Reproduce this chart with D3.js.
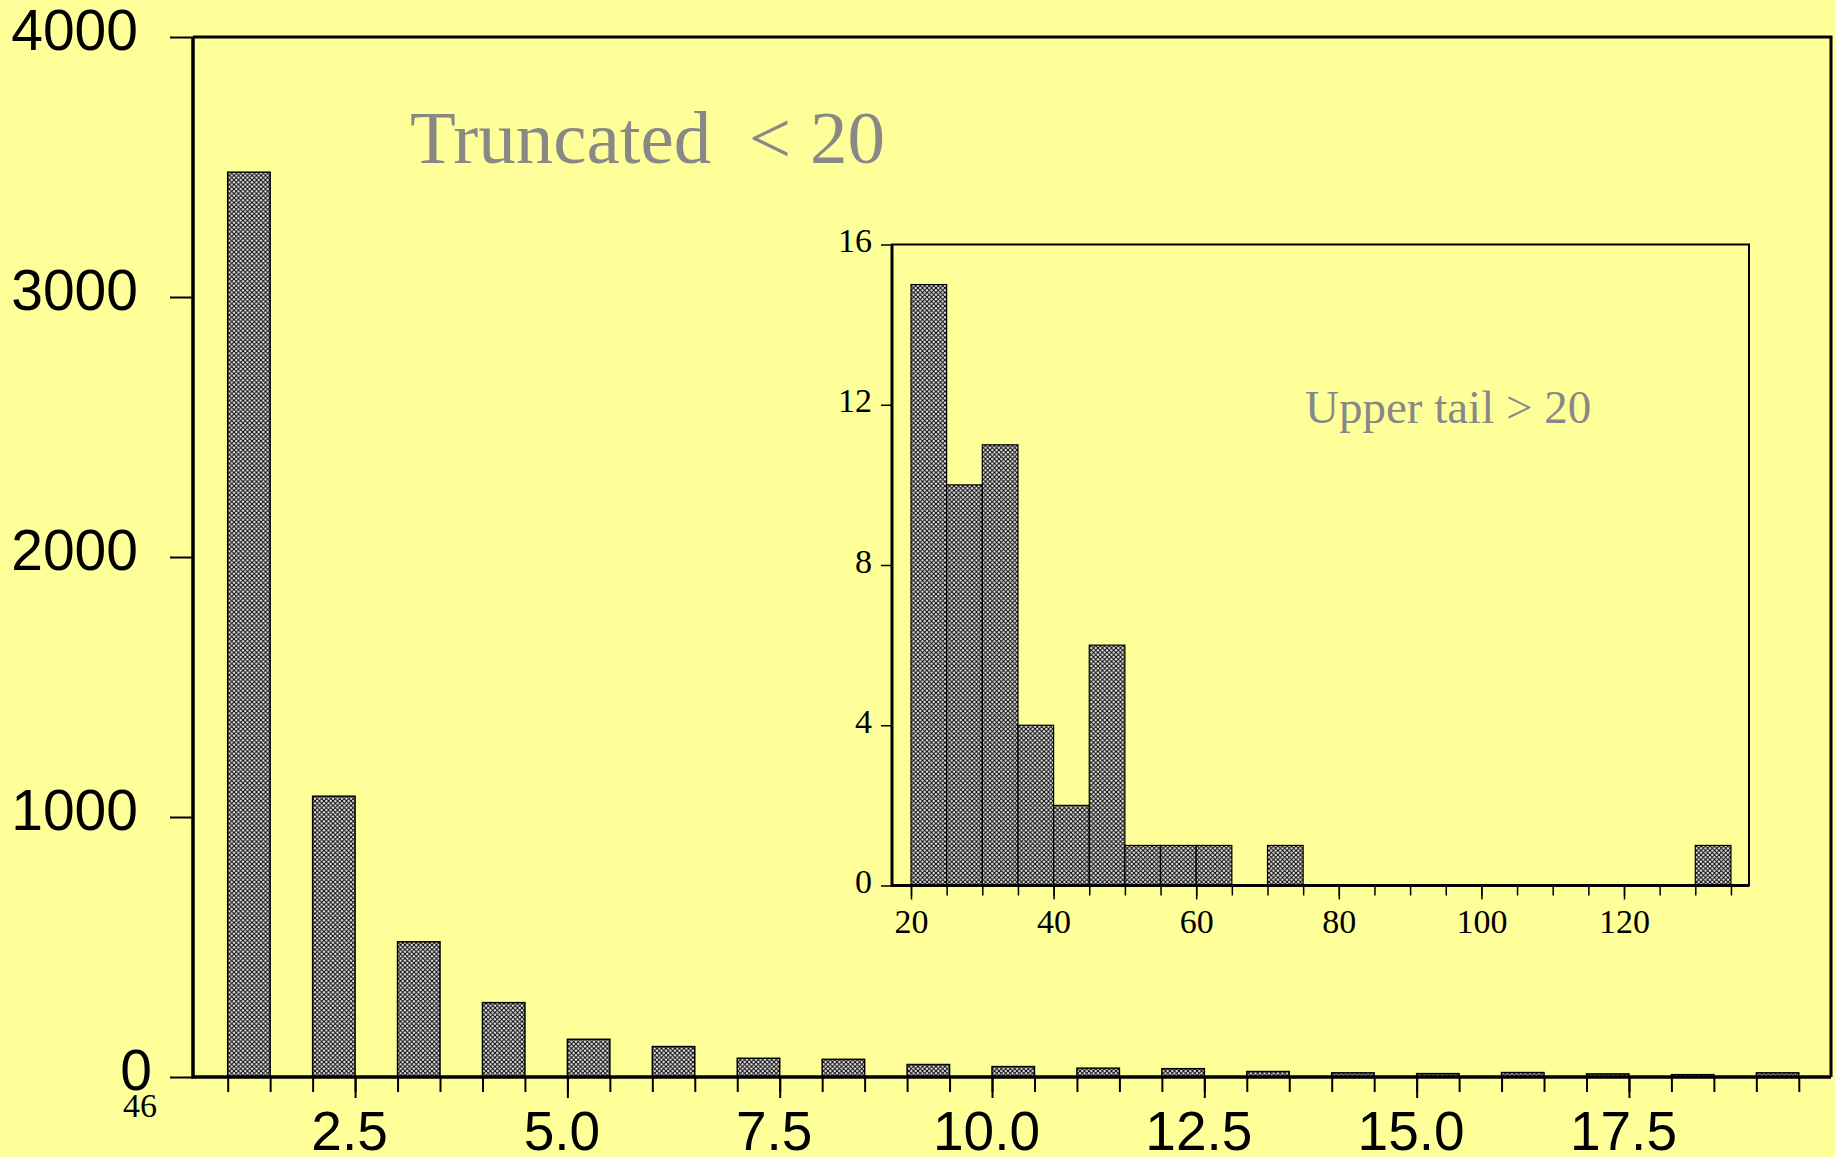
<!DOCTYPE html>
<html>
<head>
<meta charset="utf-8">
<script src="https://cdn.jsdelivr.net/npm/d3@7"></script>
<style>
  body { margin: 0; background: #ffff99; }
  svg { display: block; }
</style>
</head>
<body>
<script>
// main histogram: values below 20, bins of width 0.5 starting at each integer
var mainBins = [1, 2, 3, 4, 5, 6, 7, 8, 9, 10, 11, 12, 13, 14, 15, 16, 17, 18, 19];
var mainCounts = [3480, 1080, 520, 286, 145, 117, 72, 68, 48, 40, 34, 32, 21, 16, 13, 17, 12, 9, 16];
var mainYTicks = [0, 1000, 2000, 3000, 4000];
var mainXLabels = [2.5, 5.0, 7.5, 10.0, 12.5, 15.0, 17.5];
var mainBelow = "46";

// inset histogram: upper tail, bins of width 5
var tailBins = [20, 25, 30, 35, 40, 45, 50, 55, 60, 65, 70, 75, 80, 85, 90, 95, 100, 105, 110, 115, 120, 125, 130];
var tailCounts = [15, 10, 11, 4, 2, 6, 1, 1, 1, 0, 1, 0, 0, 0, 0, 0, 0, 0, 0, 0, 0, 0, 1];
var tailYTicks = [0, 4, 8, 12, 16];
var tailXLabels = [20, 40, 60, 80, 100, 120];

var svgWidth = 1835,
    svgHeight = 1157;

var svg = d3.select('body').append('svg')
    .attr("width", svgWidth)
    .attr("height", svgHeight);

svg.append("rect")
    .attr("width", svgWidth)
    .attr("height", svgHeight)
    .attr("fill", "#ffff99");

// crosshatch fill used by the bars
var pat = svg.append("defs").append("pattern")
    .attr("id", "hatch")
    .attr("patternUnits", "userSpaceOnUse")
    .attr("width", 4.5)
    .attr("height", 4.5);
pat.append("rect").attr("width", 4.5).attr("height", 4.5).attr("fill", "#ececec");
pat.append("path")
    .attr("d", "M0,0L4.5,4.5M4.5,0L0,4.5")
    .attr("stroke", "#000")
    .attr("stroke-width", 1);

// ---------- main chart ----------
var mLeft = 193, mTop = 37, mRight = 1831, mBottom = 1077;

var x = d3.scaleLinear().domain([1, 19.5]).range([227.7, 1798.8]);
var y = d3.scaleLinear().domain([0, 4000]).range([mBottom, mTop]);

// frame
svg.append("path")
    .attr("d", "M" + mLeft + "," + mTop + "H" + mRight + "V" + mBottom)
    .attr("fill", "none")
    .attr("stroke", "#000")
    .attr("stroke-width", 3);

svg.append("g").selectAll("rect")
    .data(mainBins)
    .join("rect")
    .attr("x", (d) => x(d))
    .attr("y", (d, i) => y(mainCounts[i]))
    .attr("width", (d) => x(d + 0.5) - x(d))
    .attr("height", (d, i) => y(0) - y(mainCounts[i]))
    .attr("fill", "url(#hatch)")
    .attr("stroke", "#000")
    .attr("stroke-width", 1.5);

// short ticks at every bar edge
var edges = [];
mainBins.forEach(function (d) { edges.push(d, d + 0.5); });
var minorX = svg.append("g")
    .attr("transform", "translate(0," + mBottom + ")")
    .call(d3.axisBottom(x).tickValues(edges).tickSize(15).tickFormat(""));
minorX.select(".domain").remove();
minorX.selectAll("line").attr("stroke-width", 2);

var majorX = svg.append("g")
    .attr("transform", "translate(0," + mBottom + ")")
    .call(d3.axisBottom(x).tickValues(mainXLabels).tickSize(21).tickFormat(d3.format(".1f")));
majorX.select(".domain").remove();
majorX.selectAll("line").attr("stroke-width", 2);
majorX.selectAll("text")
    .attr("y", 73)
    .attr("dy", 0)
    .attr("dx", -6)
    .attr("font-family", "Liberation Sans, Arial, sans-serif")
    .attr("font-size", 55)
    .attr("fill", "#000");

var yAxis = svg.append("g")
    .attr("transform", "translate(" + mLeft + ",0)")
    .call(d3.axisLeft(y).tickValues(mainYTicks).tickSize(23).tickFormat(d3.format("d")));
yAxis.select(".domain").remove();
yAxis.selectAll("line").attr("stroke-width", 2);
yAxis.selectAll("text")
    .attr("x", (d) => d === 0 ? -41 : -55)
    .attr("dy", 12)
    .attr("font-family", "Liberation Sans, Arial, sans-serif")
    .attr("font-size", 57)
    .attr("fill", "#000");

// axis lines on top
svg.append("path")
    .attr("d", "M" + mLeft + "," + mTop + "V" + mBottom + "H" + mRight)
    .attr("fill", "none")
    .attr("stroke", "#000")
    .attr("stroke-width", 3.5);

svg.append("text")
    .attr("x", 157)
    .attr("y", 1117)
    .attr("text-anchor", "end")
    .attr("font-family", "Liberation Serif, Times New Roman, serif")
    .attr("font-size", 34)
    .text(mainBelow);

svg.append("text")
    .attr("x", 410)
    .attr("y", 163)
    .style("white-space", "pre")
    .attr("font-family", "Liberation Serif, Times New Roman, serif")
    .attr("font-size", 75)
    .attr("fill", "#888888")
    .text("Truncated  < 20");

// ---------- inset chart ----------
var iLeft = 892, iRight = 1749;
var ix = d3.scaleLinear().domain([20, 120]).range([911, 1624]);
var iy = d3.scaleLinear().domain([0, 16]).range([885.5, 244.5]);

svg.append("rect")
    .attr("x", iLeft)
    .attr("y", iy(16))
    .attr("width", iRight - iLeft)
    .attr("height", iy(0) - iy(16))
    .attr("fill", "#ffff99")
    .attr("stroke", "#000")
    .attr("stroke-width", 2);

svg.append("g").selectAll("rect")
    .data(tailBins.filter((d, i) => tailCounts[i] > 0))
    .join("rect")
    .attr("x", (d) => ix(d))
    .attr("y", (d) => iy(tailCounts[tailBins.indexOf(d)]))
    .attr("width", (d) => ix(d + 5) - ix(d))
    .attr("height", (d) => iy(0) - iy(tailCounts[tailBins.indexOf(d)]))
    .attr("fill", "url(#hatch)")
    .attr("stroke", "#000")
    .attr("stroke-width", 1.2);

var tailEdges = tailBins.concat([135]);
var iMinor = svg.append("g")
    .attr("transform", "translate(0," + iy(0) + ")")
    .call(d3.axisBottom(ix).tickValues(tailEdges).tickSize(10).tickFormat(""));
iMinor.select(".domain").remove();
iMinor.selectAll("line").attr("stroke-width", 1.5);

var iMajor = svg.append("g")
    .attr("transform", "translate(0," + iy(0) + ")")
    .call(d3.axisBottom(ix).tickValues(tailXLabels).tickSize(14));
iMajor.select(".domain").remove();
iMajor.selectAll("line").attr("stroke-width", 1.5);
iMajor.selectAll("text")
    .attr("y", 47)
    .attr("dy", 0)
    .attr("font-family", "Liberation Serif, Times New Roman, serif")
    .attr("font-size", 34)
    .attr("fill", "#000");

var iYAxis = svg.append("g")
    .attr("transform", "translate(" + iLeft + ",0)")
    .call(d3.axisLeft(iy).tickValues(tailYTicks).tickSize(11));
iYAxis.select(".domain").remove();
iYAxis.selectAll("line").attr("stroke-width", 1.5);
iYAxis.selectAll("text")
    .attr("x", -20)
    .attr("dy", 7)
    .attr("font-family", "Liberation Serif, Times New Roman, serif")
    .attr("font-size", 34)
    .attr("fill", "#000");

svg.append("path")
    .attr("d", "M" + iLeft + "," + iy(16) + "V" + iy(0) + "H" + iRight)
    .attr("fill", "none")
    .attr("stroke", "#000")
    .attr("stroke-width", 3);

svg.append("text")
    .attr("x", 1305)
    .attr("y", 423)
    .attr("font-family", "Liberation Serif, Times New Roman, serif")
    .attr("font-size", 47)
    .attr("fill", "#888888")
    .text("Upper tail > 20");
</script>
</body>
</html>
